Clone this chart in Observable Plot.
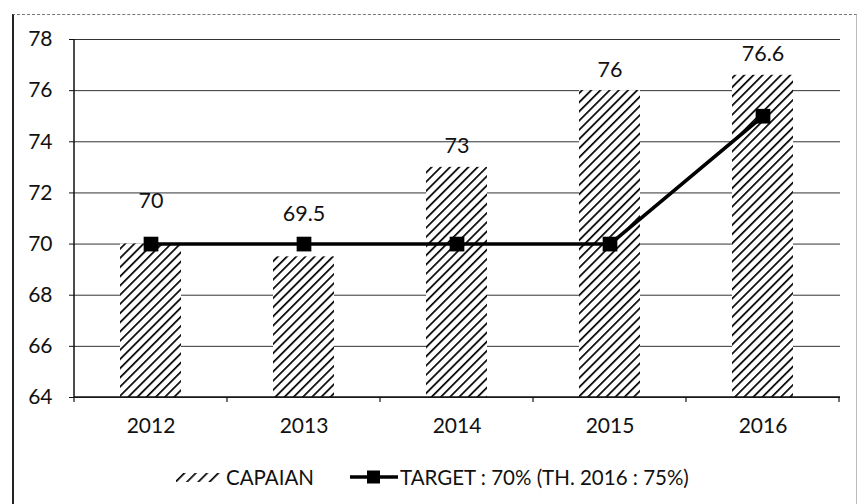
<!DOCTYPE html>
<html><head><meta charset="utf-8">
<script src="https://cdn.jsdelivr.net/npm/d3@7"></script>
<script src="https://cdn.jsdelivr.net/npm/@observablehq/plot@0.6"></script>
<style>
body{margin:0;background:#fff;}
#wrap{position:relative;width:861px;height:504px;font-family:Lato,"Open Sans",sans-serif;color:#111;overflow:hidden;}
#frame{position:absolute;left:12px;top:14px;width:845px;height:500px;border-left:2px solid #222;border-top:1px dashed #777;border-right:1px solid #bbb;box-sizing:border-box;pointer-events:none;}
#chart{position:absolute;left:0;top:0;}
#legend{position:absolute;left:0;top:463px;width:861px;height:28px;display:flex;align-items:center;font-size:20.5px;}
#legend .item{display:flex;align-items:center;}
</style></head>
<body>
<div id="wrap">
  <div id="chart"></div>
  <div id="frame"></div>
  <div id="legend"></div>
</div>
<script>
const years = ["2012", "2013", "2014", "2015", "2016"];
const capaian = [70, 69.5, 73, 76, 76.6];
const target = [70, 70, 70, 70, 75];
const yTicks = [64, 66, 68, 70, 72, 74, 76, 78];
const legendLabels = ["CAPAIAN", "TARGET : 70% (TH. 2016 : 75%)"];

const data = years.map((year, i) => ({year, capaian: capaian[i], target: target[i]}));
const near = d => Math.abs(d.capaian - d.target) < 1;

const W = 861, H = 455, ML = 74, MR = 21, MT = 39, MB = 58;

const plot = Plot.plot({
  width: W, height: H,
  marginLeft: ML, marginRight: MR, marginTop: MT, marginBottom: MB,
  style: {fontFamily: 'Lato, "Open Sans", sans-serif', fontSize: "21px", color: "#111", background: "transparent"},
  x: {domain: years, paddingInner: 0.6, paddingOuter: 0.3, label: null, tickSize: 0, tickPadding: 21},
  y: {domain: [64, 78], ticks: yTicks, tickFormat: d => String(d), label: null, tickSize: 5, tickPadding: 17},
  marks: [
    Plot.ruleY(yTicks, {stroke: "#333", strokeWidth: 1}),
    Plot.barY(data, {x: "year", y1: 64, y2: "capaian", fill: "url(#hatch)"}),
    Plot.line(data, {x: "year", y: "target", stroke: "#000", strokeWidth: 3.5}),
    Plot.dot(data, {x: "year", y: "target", symbol: "square", r: 8.3, fill: "#000", stroke: "none"}),
    Plot.text(data.filter(d => !near(d)), {x: "year", y: "capaian", text: d => String(d.capaian), dy: -21, fontSize: 21.5, fill: "#111"}),
    Plot.text(data.filter(near), {x: "year", y: "capaian", text: d => String(d.capaian), dy: -43, fontSize: 21.5, fill: "#111"})
  ]
});

const svg = d3.select(plot);
svg.insert("defs", ":first-child").html(
  '<pattern id="hatch" patternUnits="userSpaceOnUse" width="6.5" height="6.5" patternTransform="rotate(45)">' +
  '<rect width="6.5" height="6.5" fill="#fff"/>' +
  '<line x1="0" y1="0" x2="0" y2="6.5" stroke="#000" stroke-width="3.4"/></pattern>'
);
// y axis line, baseline and band boundary ticks, from the scales
const xs = plot.scale("x"), ys = plot.scale("y");
const g = svg.append("g").attr("stroke", "#111");
g.append("line").attr("x1", ML).attr("x2", ML).attr("y1", ys.apply(78)).attr("y2", ys.apply(64)).attr("stroke-width", 1.5);
g.append("line").attr("x1", ML).attr("x2", W - MR).attr("y1", ys.apply(64)).attr("y2", ys.apply(64)).attr("stroke-width", 1.5);
const step = xs.step;
for (let i = 0; i <= years.length; i++) {
  const x = xs.range[0] + i * step;
  g.append("line").attr("x1", x).attr("x2", x).attr("y1", ys.apply(64)).attr("y2", ys.apply(64) + 5).attr("stroke-width", 1.2);
}
document.getElementById("chart").appendChild(plot);

// legend
const leg = d3.select("#legend").style("padding-left", "176px").style("box-sizing", "border-box");
const i1 = leg.append("div").attr("class", "item");
const s1 = i1.append("svg").attr("width", 46).attr("height", 16);
s1.append("defs").html('<pattern id="hatchL" patternUnits="userSpaceOnUse" width="8" height="8" patternTransform="rotate(45)"><line x1="0" y1="0" x2="0" y2="8" stroke="#000" stroke-width="3.4"/></pattern>');
s1.append("rect").attr("x", 0).attr("y", 4).attr("width", 44).attr("height", 9).attr("fill", "url(#hatchL)");
i1.append("span").text(legendLabels[0]).style("margin-left", "4px");
const i2 = leg.append("div").attr("class", "item").style("margin-left", "34px");
const s2 = i2.append("svg").attr("width", 52).attr("height", 16);
s2.append("line").attr("x1", 2).attr("x2", 50).attr("y1", 8).attr("y2", 8).attr("stroke", "#000").attr("stroke-width", 3.5);
s2.append("rect").attr("x", 19).attr("y", 1.5).attr("width", 13).attr("height", 13).attr("fill", "#000");
i2.append("span").text(legendLabels[1]);
</script>
</body></html>
